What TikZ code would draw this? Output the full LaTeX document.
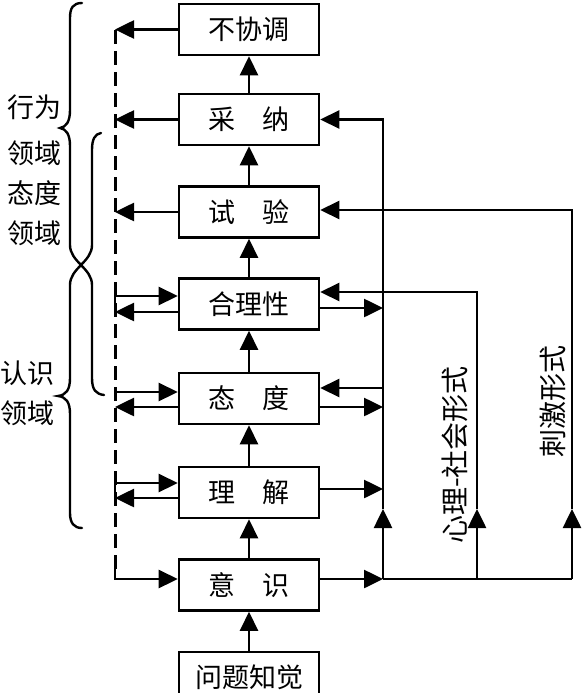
\documentclass[tikz,border=0pt]{standalone}
\usepackage{fontspec}
\setmainfont{Noto Sans CJK SC}
\usetikzlibrary{arrows.meta}
\begin{document}
\begin{tikzpicture}[x=1pt,y=-1pt, line width=2.6pt,
  arr/.style={-{Triangle[length=19pt,width=18pt]}},
  box/.style={draw, minimum width=140pt, minimum height=51pt, inner sep=0pt, font=\fontsize{27}{30}\selectfont},
  lab/.style={font=\fontsize{27}{30}\selectfont, inner sep=0pt},
  rlab/.style={font=\fontsize{28}{32}\selectfont, rotate=90, inner sep=0pt},
  dl/.style={line width=3pt, dash pattern=on 14pt off 7pt},
  brace/.style={line width=2.4pt, line cap=round}]
\useasboundingbox (0,0) rectangle (582,693);
% boxes
\node[box] (b0) at (249,29.5) {不协调};
\node[box] (b1) at (249,119.5) {采　纳};
\node[box] (b2) at (249,212) {试　验};
\node[box] (b3) at (249,304) {合理性};
\node[box] (b4) at (249,398.5) {态　度};
\node[box] (b5) at (249,492.5) {理　解};
\node[box] (b6) at (249,585) {意　识};
\node[box] (b7) at (249,677.5) {问题知觉};
% vertical arrows
\foreach \a/\b in {b7/b6,b6/b5,b5/b4,b4/b3,b3/b2,b2/b1,b1/b0}
  \draw[arr] (\a.north) -- (\b.south);
% dashed feedback line
\coordinate (dtop) at (115,30);
\coordinate (dlow) at (115,569);
\coordinate (dbot) at (115,579);
\draw[dl] (dtop) -- (dlow);
\draw[arr] (dlow) -- (dbot) -- (dbot -| b6.west);
\draw[arr] (b0.west) -- (b0.west -| dtop);
\draw[arr] (b1.west) -- (b1.west -| dtop);
\draw[arr] (b2.west) -- (b2.west -| dtop);
\coordinate (L3a) at (115,296); \coordinate (L3b) at (115,312);
\coordinate (L4a) at (115,392); \coordinate (L4b) at (115,407);
\coordinate (L5a) at (115,483); \coordinate (L5b) at (115,498);
\foreach \i in {3,4,5}{
  \draw (L\i a) -- ++(0,9);
  \draw[arr] (L\i a) -- (L\i a -| b\i.west);
  \draw[arr] (L\i b -| b\i.west) -- (L\i b);
}
% right side
\coordinate (J0) at (383,579); \coordinate (J1) at (477,579); \coordinate (J2) at (572,579);
\coordinate (U0) at (383,509); \coordinate (U1) at (477,509); \coordinate (U2) at (572,509);
\coordinate (T0) at (383,119.5); \coordinate (T1) at (477,292); \coordinate (T2) at (572,210);
\draw[arr] (b6.east |- J0) -- (J0);
\draw (J0) -- (J2);
\draw[arr] (J0) -- (U0);
\draw[arr] (J1) -- (U1);
\draw[arr] (J2) -- (U2);
\draw[arr] (U0) -- (T0) -- (T0 -| b1.east);
\draw[arr] (U1) -- (T1) -- (T1 -| b3.east);
\draw[arr] (U2) -- (T2) -- (T2 -| b2.east);
\coordinate (R3b) at (383,308);
\coordinate (R4a) at (383,388); \coordinate (R4b) at (383,407);
\coordinate (R5) at (383,489);
\draw[arr] (b3.east |- R3b) -- (R3b);
\draw[arr] (R4a) -- (R4a -| b4.east);
\draw[arr] (b4.east |- R4b) -- (R4b);
\draw[arr] (b5.east |- R5) -- (R5);
% labels
\node[rlab] (r1) at (455,455) {心理-社会形式};
\node[rlab] (r2) at (553,401) {刺激形式};
\node[lab] (t1) at (35,107) {行为};
\node[lab] (t2) at (35,153) {领域};
\node[lab] (t3) at (35,193) {态度};
\node[lab] (t4) at (35,233) {领域};
\node[lab] (t5) at (28,373) {认识};
\node[lab] (t6) at (28,413) {领域};
% braces
\draw[brace] (82,3) .. controls (73,3) and (70,8) .. (70,18) -- (70,110)
  .. controls (70,122) and (66,127) .. (60,128)
  .. controls (66,129) and (70,134) .. (70,146) -- (70,245)
  .. controls (70,262) and (92,268) .. (92,285) -- (92,378)
  .. controls (92,390) and (96,394) .. (104,395);
\draw[brace] (101,133) .. controls (95,134) and (92,139) .. (92,150) -- (92,245)
  .. controls (92,262) and (70,268) .. (70,285) -- (70,378)
  .. controls (70,390) and (66,395) .. (58,396)
  .. controls (66,397) and (70,402) .. (70,414) -- (70,513)
  .. controls (70,523) and (74,528) .. (82,528);
\end{tikzpicture}
\end{document}
